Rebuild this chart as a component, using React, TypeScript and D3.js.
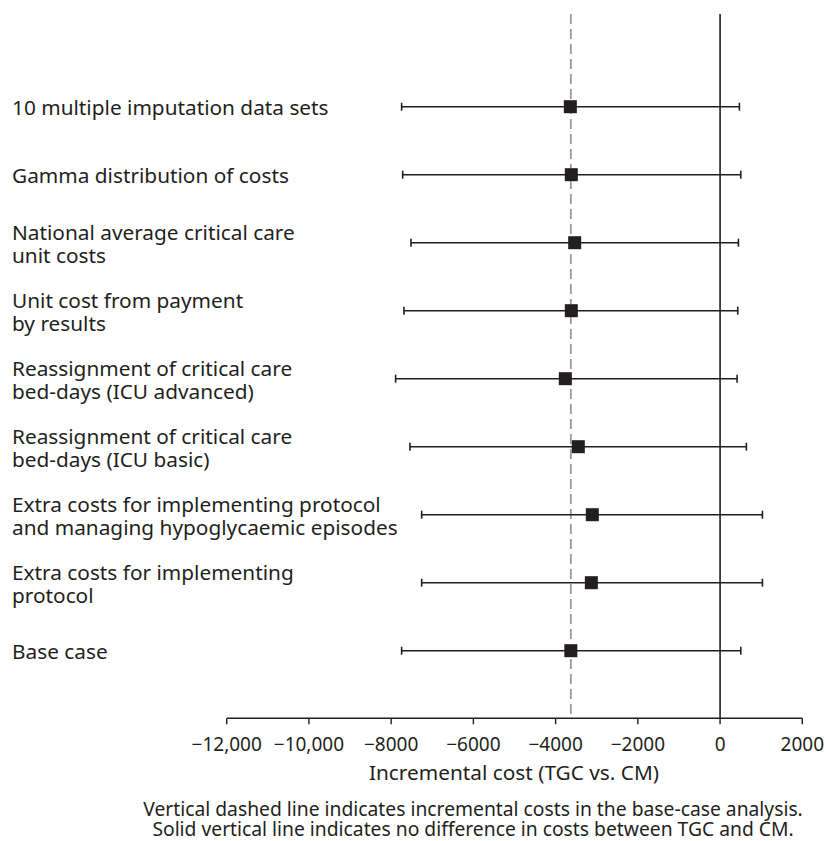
import React from "react";
import * as d3 from "d3";

// Sensitivity scenarios, top to bottom
const scenarios: string[][] = [
  ["10 multiple imputation data sets"],
  ["Gamma distribution of costs"],
  ["National average critical care", "unit costs"],
  ["Unit cost from payment", "by results"],
  ["Reassignment of critical care", "bed-days (ICU advanced)"],
  ["Reassignment of critical care", "bed-days (ICU basic)"],
  ["Extra costs for implementing protocol", "and managing hypoglycaemic episodes"],
  ["Extra costs for implementing", "protocol"],
  ["Base case"],
];

// Incremental cost point estimates and 95% interval bounds
const meanCost: number[] = [-3642, -3618, -3536, -3618, -3764, -3448, -3107, -3131, -3630];
const lowerCost: number[] = [-7745, -7720, -7518, -7689, -7891, -7543, -7258, -7258, -7745];
const upperCost: number[] = [470, 504, 446, 430, 414, 640, 1030, 1030, 504];

const baseCaseCost = -3630;
const xTicks: number[] = [-12000, -10000, -8000, -6000, -4000, -2000, 0, 2000];
const xTickLabels: string[] = ["\u221212,000", "\u221210,000", "\u22128000", "\u22126000", "\u22124000", "\u22122000", "0", "2000"];

const axisTitle = "Incremental cost (TGC vs. CM)";
const notes: string[] = [
  "Vertical dashed line indicates incremental costs in the base-case analysis.",
  "Solid vertical line indicates no difference in costs between TGC and CM.",
];

const W = 827;
const H = 841;
const FONT = "'Noto Sans', 'Open Sans', sans-serif";
const INK = "#231f20";

export default function App() {
  const x = d3.scaleLinear().domain([-12000, 2000]).range([226.7, 802.3]);
  const y = d3
    .scalePoint<number>()
    .domain(d3.range(scenarios.length))
    .range([106.7, 650.7]);

  const axisY = 718.3;
  const topY = 14;
  const capH = 4;
  const sq = 13;

  return (
    <svg
      width={W}
      height={H}
      viewBox={`0 0 ${W} ${H}`}
      style={{ position: "absolute", left: 0, top: 0, background: "#fff" }}
      fontFamily={FONT}
    >
      {/* base-case reference line */}
      <line
        x1={x(baseCaseCost)}
        x2={x(baseCaseCost)}
        y1={topY}
        y2={axisY}
        stroke="#9a9a9a"
        strokeWidth={1.8}
        strokeDasharray="10,5"
      />
      {/* no-difference line */}
      <line x1={x(0)} x2={x(0)} y1={topY} y2={axisY} stroke={INK} strokeWidth={1.6} />

      {/* x axis */}
      <line x1={x(-12000)} x2={x(2000)} y1={axisY} y2={axisY} stroke={INK} strokeWidth={1.4} />
      {xTicks.map((t, i) => (
        <g key={t}>
          <line x1={x(t)} x2={x(t)} y1={axisY} y2={axisY + 6} stroke={INK} strokeWidth={1.4} />
          <text x={x(t)} y={751} textAnchor="middle" fontSize={19} fill={INK}>
            {xTickLabels[i]}
          </text>
        </g>
      ))}
      <text x={514} y={780} textAnchor="middle" fontSize={20.8} fill={INK}>
        {axisTitle}
      </text>

      {/* scenario rows */}
      {scenarios.map((lines, i) => {
        const cy = y(i) as number;
        return (
          <g key={i}>
            <text
              x={12}
              y={lines.length === 1 ? cy + 8 : cy - 3}
              fontSize={20.8}
              fill={INK}
            >
              {lines.map((ln, j) => (
                <tspan key={j} x={12} dy={j === 0 ? 0 : 23}>
                  {ln}
                </tspan>
              ))}
            </text>
            <line x1={x(lowerCost[i])} x2={x(upperCost[i])} y1={cy} y2={cy} stroke={INK} strokeWidth={1.4} />
            <line x1={x(lowerCost[i])} x2={x(lowerCost[i])} y1={cy - capH} y2={cy + capH} stroke={INK} strokeWidth={1.6} />
            <line x1={x(upperCost[i])} x2={x(upperCost[i])} y1={cy - capH} y2={cy + capH} stroke={INK} strokeWidth={1.6} />
            <rect x={x(meanCost[i]) - sq / 2} y={cy - sq / 2} width={sq} height={sq} fill={INK} />
          </g>
        );
      })}

      {/* footnotes */}
      <text x={473} y={816} textAnchor="middle" fontSize={19.3} fill={INK}>
        {notes.map((n, i) => (
          <tspan key={i} x={473} dy={i === 0 ? 0 : 19.5}>
            {n}
          </tspan>
        ))}
      </text>
    </svg>
  );
}
